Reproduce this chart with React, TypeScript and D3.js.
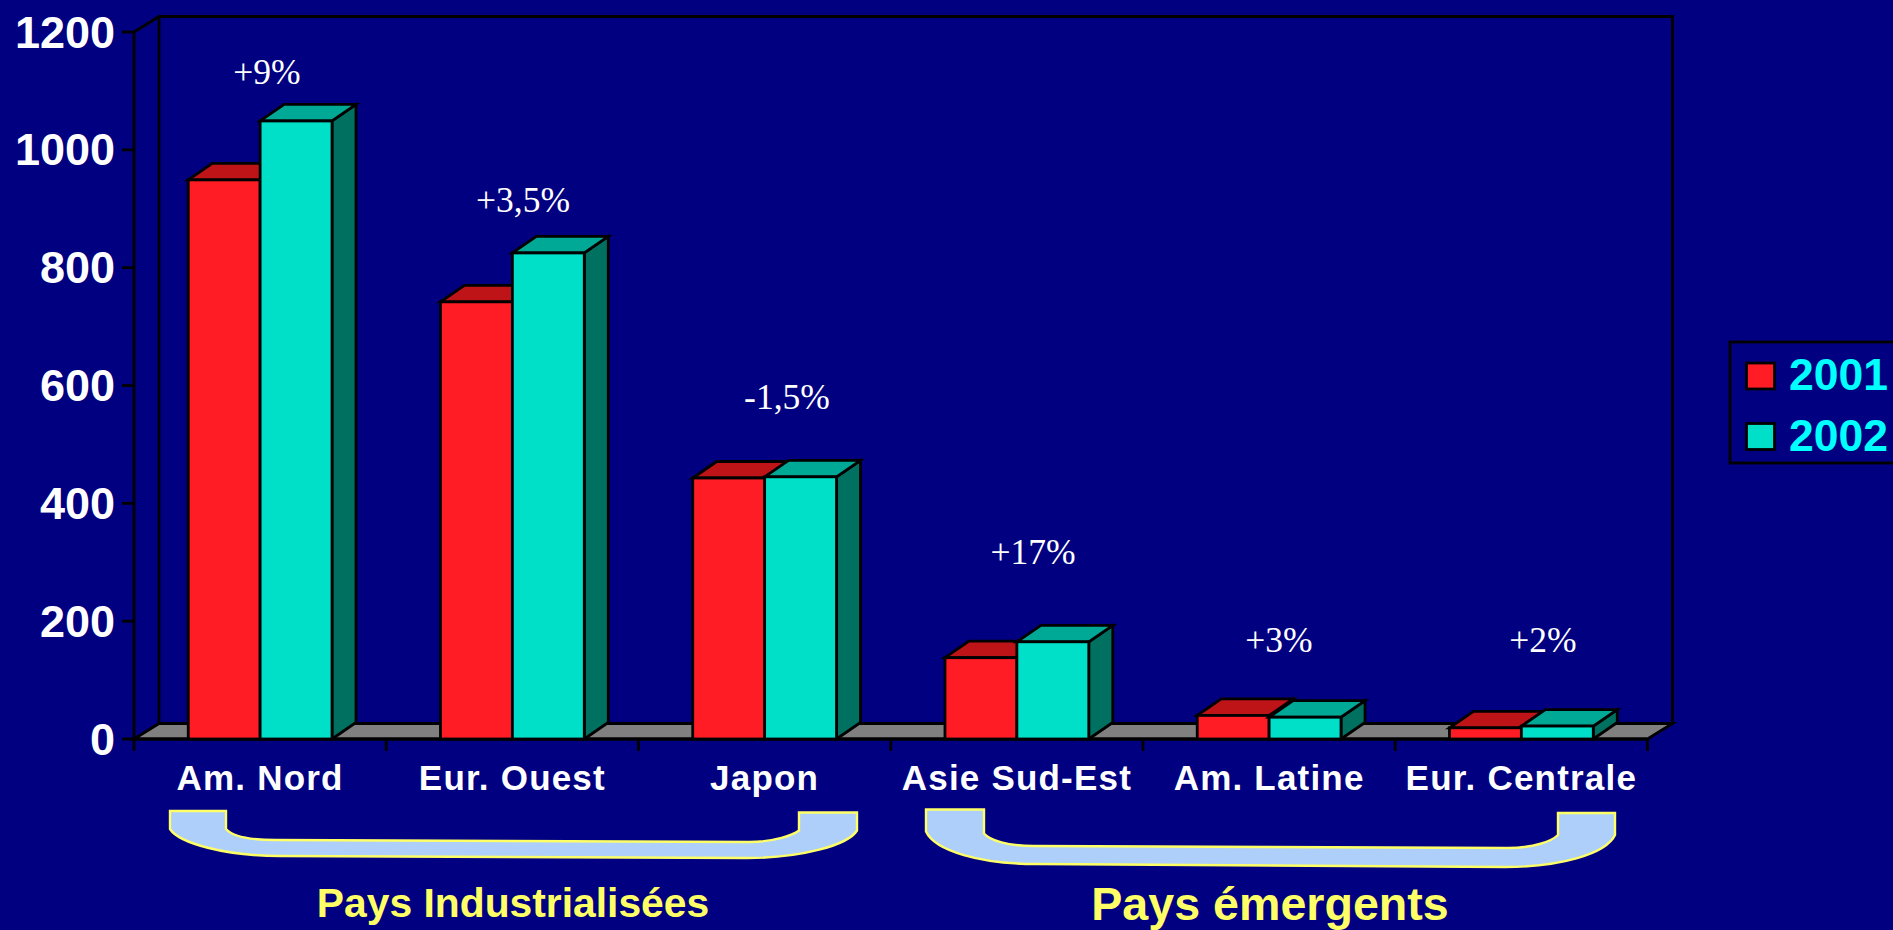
import React from "react";
import * as d3 from "d3";

const categories = ["Am. Nord", "Eur. Ouest", "Japon", "Asie Sud-Est", "Am. Latine", "Eur. Centrale"];
const values2001 = [949, 742, 443, 138, 40, 19];
const values2002 = [1049, 825, 445, 165, 37, 22];
const growthLabels = ["+9%", "+3,5%", "-1,5%", "+17%", "+3%", "+2%"];
const yTicks = [0, 200, 400, 600, 800, 1000, 1200];

const W = 1893, H = 930;
const X0 = 134, X1 = 1647.5, Y0 = 739, Y1 = 32;
const DX = 25, DY = 15.5, BDX = 24, BDY = 16.5;

const growthPos: [number, number][] = [[267, 84], [523, 212], [787, 409], [1033, 564], [1279, 652], [1543, 652]];

const x = d3.scaleBand<string>().domain(categories).range([X0, X1]).paddingInner(0.43).paddingOuter(0.215);
const y = d3.scaleLinear().domain([0, 1200]).range([Y0, Y1]);
const inner = d3.scaleBand<string>().domain(["2001", "2002"]).range([0, x.bandwidth()]);

const palette: Record<string, { front: string; top: string; side: string }> = {
  "2001": { front: "#FF1C24", top: "#BE1418", side: "#8C1014" },
  "2002": { front: "#00DFC8", top: "#00A896", side: "#007060" },
};
const AX = "#000000";
const SANS = "'Liberation Sans', Arial, sans-serif";
const SERIF = "'Liberation Serif', 'Times New Roman', serif";
const SW = 2.8;

function Bar3D({ cat, year, v }: { cat: string; year: string; v: number }) {
  const bx = (x(cat) as number) + (inner(year) as number);
  const bw = inner.bandwidth();
  const ty = y(v);
  const c = palette[year];
  return (
    <g stroke={AX} strokeWidth={SW} strokeLinejoin="miter">
      <path d={`M${bx + bw},${Y0}L${bx + bw + BDX},${Y0 - BDY}L${bx + bw + BDX},${ty - BDY}L${bx + bw},${ty}Z`} fill={c.side} />
      <path d={`M${bx},${ty}L${bx + BDX},${ty - BDY}L${bx + bw + BDX},${ty - BDY}L${bx + bw},${ty}Z`} fill={c.top} />
      <rect x={bx} y={ty} width={bw} height={Y0 - ty} fill={c.front} />
    </g>
  );
}

function bracket(l: number, li: number, r: number, ri: number, topL: number, topR: number, innerL: number, innerR: number, botL: number, botR: number, shL: number, shR: number, ihL: number, ihR: number) {
  return [
    `M${l},${topL}`,
    `L${li},${topL}`,
    `L${li},${topL + ihL}`,
    `C${li + 6},${topL + ihL + 7} ${li + 24},${innerL} ${li + 50},${innerL}`,
    `L${ri - 50},${innerR}`,
    `C${ri - 24},${innerR} ${ri - 6},${innerR - 7} ${ri},${topR + ihR}`,
    `L${ri},${topR}`,
    `L${r},${topR}`,
    `L${r},${topR + shR}`,
    `C${r - 9},${botR - 13} ${r - 55},${botR} ${r - 110},${botR}`,
    `L${l + 110},${botL}`,
    `C${l + 55},${botL} ${l + 9},${botL - 13} ${l},${topL + shL}`,
    "Z",
  ].join(" ");
}

export default function App() {
  const tickOut = 12;
  const catEdges = d3.range(categories.length + 1).map((i) => X0 + (i * (X1 - X0)) / categories.length);
  return (
    <svg width={W} height={H} viewBox={`0 0 ${W} ${H}`} style={{ position: "fixed", left: 0, top: 0, display: "block" }}>
      <rect width={W} height={H} fill="#000080" />

      {/* floor */}
      <path d={`M${X0},${Y0}L${X0 + DX},${Y0 - DY}L${X1 + DX},${Y0 - DY}L${X1},${Y0}Z`} fill="#808080" stroke={AX} strokeWidth={SW} />
      {/* walls */}
      <path d={`M${X0},${Y0}L${X0},${Y1}L${X0 + DX},${Y1 - DY}L${X1 + DX},${Y1 - DY}L${X1 + DX},${Y0 - DY}`} fill="none" stroke={AX} strokeWidth={SW} />
      <line x1={X0 + DX} y1={Y1 - DY} x2={X0 + DX} y2={Y0 - DY} stroke={AX} strokeWidth={SW} />

      {/* y axis */}
      {yTicks.map((t) => (
        <g key={t}>
          <line x1={X0 - tickOut} x2={X0} y1={y(t)} y2={y(t)} stroke={AX} strokeWidth={SW} />
          <text x={115} y={y(t) + 15.5} textAnchor="end" fontFamily={SANS} fontWeight="bold" fontSize={45} fill="#fff">{t}</text>
        </g>
      ))}
      {/* x axis */}
      <line x1={X0} x2={X1} y1={Y0} y2={Y0} stroke={AX} strokeWidth={SW} />
      {catEdges.map((e, i) => (
        <line key={i} x1={e} x2={e} y1={Y0} y2={Y0 + tickOut} stroke={AX} strokeWidth={SW} />
      ))}
      {categories.map((c) => (
        <text key={c} x={(x(c) as number) + x.bandwidth() / 2} y={790} textAnchor="middle" fontFamily={SANS} fontWeight="bold" fontSize={35} letterSpacing={1.2} fill="#fff">{c}</text>
      ))}

      {/* bars */}
      {categories.map((c, i) => (
        <g key={c}>
          <Bar3D cat={c} year="2001" v={values2001[i]} />
          <Bar3D cat={c} year="2002" v={values2002[i]} />
        </g>
      ))}

      {/* growth */}
      {growthLabels.map((g, i) => (
        <text key={g} x={growthPos[i][0]} y={growthPos[i][1]} textAnchor="middle" fontFamily={SERIF} fontSize={35.5} fill="#fff">{g}</text>
      ))}

      {/* brackets */}
      <path d={bracket(170, 226, 857, 799, 811, 812.5, 840, 842, 856, 858, 18, 18, 18, 18)} fill="#ADCFFA" stroke="#FFFF66" strokeWidth={2.4} />
      <path d={bracket(926, 984, 1615, 1558, 809.5, 813, 846, 848, 864, 867, 22, 22, 24, 22)} fill="#ADCFFA" stroke="#FFFF66" strokeWidth={2.4} />
      <text x={513} y={917} textAnchor="middle" fontFamily={SANS} fontWeight="bold" fontSize={40.8} fill="#FFFF66">Pays Industrialisées</text>
      <text x={1270} y={920} textAnchor="middle" fontFamily={SANS} fontWeight="bold" fontSize={46.6} fill="#FFFF66">Pays émergents</text>

      {/* legend */}
      <rect x={1730} y={342} width={180} height={121} fill="none" stroke={AX} strokeWidth={SW} />
      {["2001", "2002"].map((yr, i) => (
        <g key={yr}>
          <rect x={1746.5} y={363 + i * 60.5} width={28} height={26} fill={palette[yr].front} stroke={AX} strokeWidth={SW} />
          <text x={1789} y={390 + i * 61} fontFamily={SANS} fontWeight="bold" fontSize={44.5} fill="#00FFFF">{yr}</text>
        </g>
      ))}
    </svg>
  );
}
